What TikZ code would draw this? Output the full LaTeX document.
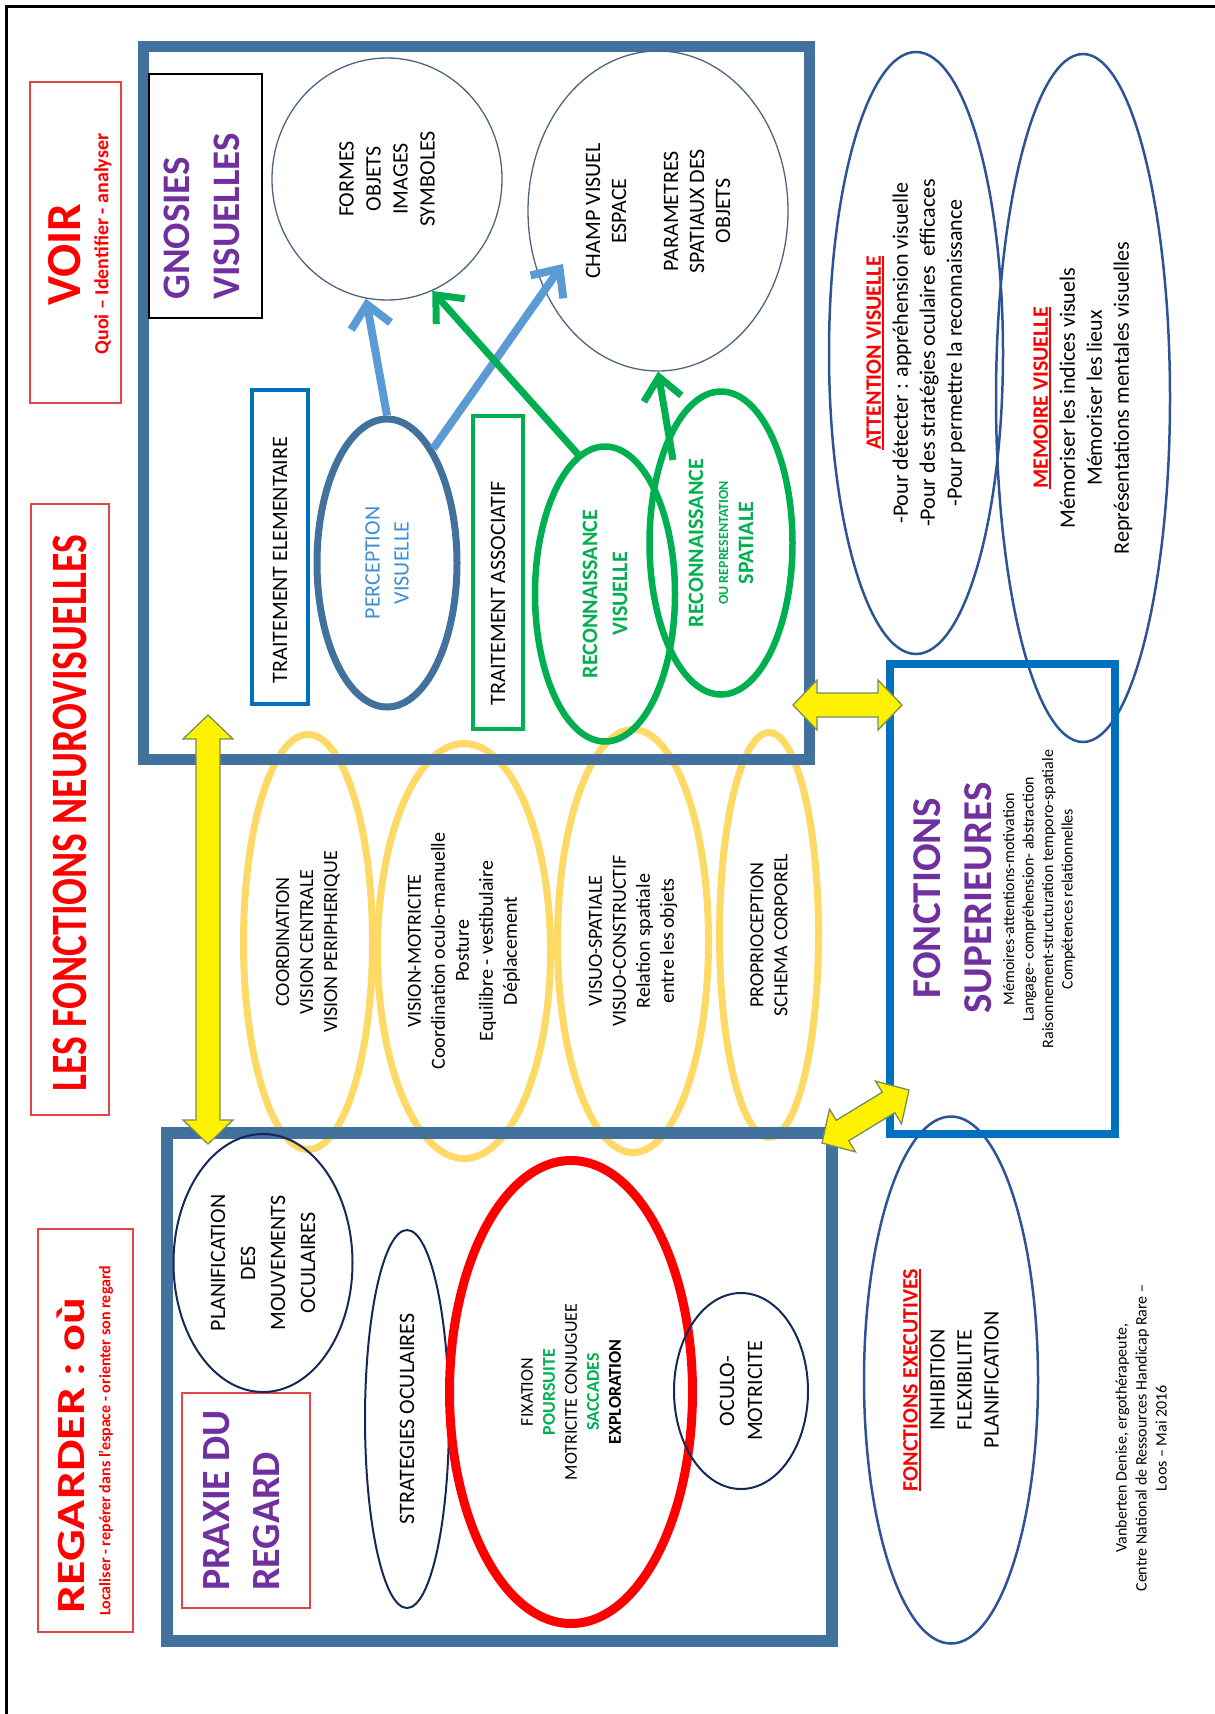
\documentclass[tikz,border=0pt]{standalone}
\usepackage{fontspec}
\setmainfont{Carlito}
\usepackage{graphicx}
\usepackage{tikz}
\usetikzlibrary{shapes.geometric,arrows.meta,calc}

\definecolor{acier}{RGB}{65,113,156}
\definecolor{bleuvif}{RGB}{0,112,192}
\definecolor{bleuclair}{RGB}{91,155,213}
\definecolor{bleutexte}{RGB}{62,142,208}
\definecolor{vert}{RGB}{0,176,80}
\definecolor{ocre}{RGB}{255,217,102}
\definecolor{violetgv}{RGB}{112,48,160}
\definecolor{marine}{RGB}{47,84,150}
\definecolor{nuit}{RGB}{20,40,90}
\definecolor{rouge}{RGB}{255,0,0}
\definecolor{rougecadre}{RGB}{225,70,70}
\definecolor{gristrait}{RGB}{80,100,130}
\definecolor{bordjaune}{RGB}{120,140,90}

\newcommand{\taille}[2]{\fontsize{#1}{#2}\selectfont}
\newsavebox{\boitesoul}
\newcommand{\souligne}[1]{\sbox{\boitesoul}{#1}\rlap{\rule[-3pt]{\wd\boitesoul}{1.8pt}}\usebox{\boitesoul}}

% double fleche jaune entre deux points
\newcommand{\flechejaune}[2]{%
  \coordinate (h1) at ($(#1)!24pt!(#2)$);
  \coordinate (h2) at ($(#2)!24pt!(#1)$);
  \filldraw[fleche jaune] (#1) -- ($(h1)!25pt!90:(#2)$) -- ($(h1)!12pt!90:(#2)$)
    -- ($(h2)!12pt!-90:(#1)$) -- ($(h2)!25pt!-90:(#1)$) -- (#2)
    -- ($(h2)!25pt!90:(#1)$) -- ($(h2)!12pt!90:(#1)$)
    -- ($(h1)!12pt!-90:(#2)$) -- ($(h1)!25pt!-90:(#2)$) -- cycle;}

\tikzset{
  cadre/.style={draw=acier, line width=11pt},
  titre/.style={draw=rougecadre, line width=1.3pt},
  traitement/.style={line width=4.5pt},
  cercle/.style={ellipse, draw=gristrait, line width=1.3pt, align=center, font=\taille{22}{27}},
  jaune/.style={ellipse, draw=ocre, line width=7pt, align=center, font=\taille{20}{24}},
  bulle/.style={ellipse, draw=marine, line width=2.5pt, align=center, font=\taille{22}{27}},
  oeil/.style={ellipse, draw=nuit, line width=2pt, align=center, font=\taille{22}{30}},
  fleche bleue/.style={draw=bleuclair, line width=8pt, -{Straight Barb[length=22pt,width=40pt]}},
  fleche verte/.style={draw=vert, line width=7pt, -{Straight Barb[length=22pt,width=38pt]}},
  fleche jaune/.style={fill=yellow, draw=bordjaune, line width=1.3pt, line join=miter},
}

\begin{document}
\begin{tikzpicture}[x=1pt, y=-1pt, every node/.style={rotate=90, inner sep=0pt}]
\useasboundingbox (0,0) rectangle (1215,1714);
\clip (0,0) rectangle (1215,1714);
\draw[line width=2.5pt] (6.5,6.5) rectangle (1240,1740);

% titres
\node[titre, minimum width=321pt, minimum height=91pt] (voir) at (75.5,242.5) {};
\node[font=\bfseries\taille{49}{49}, text=rouge] (voirtxt) at (65,255) {VOIR};
\node[font=\bfseries\taille{20}{20}, text=rouge] (voirsous) at (103,244) {Quoi – Identifier - analyser};

\node[titre, minimum width=611pt, minimum height=78pt] (neuro) at (70,809.5) {};
\node[font=\bfseries\taille{51}{51}, text=rouge] (neurotxt) at (70,813)
  {\scalebox{0.78}[1]{LES FONCTIONS NEUROVISUELLES}};

\node[titre, minimum width=403pt, minimum height=95pt] (regarder) at (85.5,1430.5) {};
\node[anchor=west, font=\bfseries\taille{40}{40}, text=rouge] (regtxt) at (71,1614)
  {\scalebox{1.25}[1]{REGARDER : où}};
\node[anchor=west, font=\bfseries\taille{16}{16}, text=rouge] (regsous) at (106,1616)
  {Localiser - repérer dans l'espace - orienter son regard};

% anneaux jaunes
\node[jaune, minimum width=415pt, minimum height=129pt] (coord) at (308,942)
  {COORDINATION\\VISION CENTRALE\\VISION PERIPHERIQUE};
\node[jaune, minimum width=415pt, minimum height=173pt] (motri) at (464,951)
  {VISION-MOTRICITE\\Coordination oculo-manuelle\\Posture\\Equilibre - vestibulaire\\Déplacement};
\node[jaune, minimum width=423pt, minimum height=151pt] (spatial) at (633,941)
  {VISUO-SPATIALE\\VISUO-CONSTRUCTIF\\Relation spatiale\\entre les objets};
\node[jaune, minimum width=405pt, minimum height=99pt] (proprio) at (769,935)
  {PROPRIOCEPTION\\SCHEMA CORPOREL};

% fonctions a droite
\node[bulle, minimum width=602pt, minimum height=174pt] (attention) at (916,353)
  {\textcolor{rouge}{\bfseries\souligne{ATTENTION VISUELLE}}\\-Pour détecter : appréhension visuelle\\-Pour des stratégies oculaires\ \ efficaces\\-Pour permettre la reconnaissance};
\node[bulle, minimum width=688pt, minimum height=174pt] (memoire) at (1083,398)
  {\textcolor{rouge}{\bfseries\souligne{MEMOIRE VISUELLE}}\\Mémoriser les indices visuels\\Mémoriser les lieux\\Représentations mentales visuelles};
\node[bulle, minimum width=527pt, minimum height=174pt] (executives) at (951,1380)
  {\textcolor{rouge}{\bfseries\souligne{FONCTIONS EXECUTIVES}}\\INHIBITION\\FLEXIBILITE\\PLANIFICATION};

% grands cadres
\node[cadre, minimum width=713pt, minimum height=666pt] (gnosies) at (476,402.5) {};
\node[cadre, line width=12pt, minimum width=508pt, minimum height=665pt] (praxie) at (499.5,1387) {};
\node[draw=bleuvif, line width=8pt, minimum width=470pt, minimum height=225pt] (superieures) at (1002.5,899) {};
\node[font=\bfseries\taille{41}{51}, text=violetgv, align=center] (suptxt) at (952.5,898) {FONCTIONS\\SUPERIEURES};
\node[font=\taille{16}{19.5}, align=center] (supsous) at (1039,899)
  {Mémoires-attentions-motivation\\Langage- compréhension- abstraction\\Raisonnement-structuration temporo-spatiale\\Compétences relationnelles};

% gnosies visuelles
\node[draw, line width=1.3pt, minimum width=244pt, minimum height=113pt] (gvcadre) at (205.5,196) {};
\node[anchor=west, align=left, font=\bfseries\taille{39}{50}, text=violetgv] (gvtxt) at (201.5,300) {GNOSIES\\VISUELLES};
\node[cercle, minimum width=242pt, minimum height=230pt] (formes) at (387,179) {FORMES\\OBJETS\\IMAGES\\SYMBOLES};
\node[cercle, minimum width=320pt, minimum height=260pt, font=\taille{22}{26}] (champ) at (658,211)
  {CHAMP VISUEL\\ESPACE\\[26pt]PARAMETRES\\SPATIAUX DES\\OBJETS};
\node[traitement, draw=bleuvif, minimum width=314pt, minimum height=56pt] (elementaire) at (280,547) {};
\node[font=\taille{22}{26}] (elemtxt) at (280,560) {TRAITEMENT ELEMENTAIRE};
\node[traitement, draw=vert, minimum width=313pt, minimum height=50pt] (associatif) at (498,572.5) {};
\node[font=\taille{22}{26}] (assotxt) at (498,593) {TRAITEMENT ASSOCIATIF};
\node[ellipse, draw=acier, line width=7pt, minimum width=288pt, minimum height=140pt, text=bleutexte,
  font=\taille{22}{29}, align=center] (perception) at (387,563) {PERCEPTION\\VISUELLE};
\node[ellipse, draw=vert, line width=6.5pt, minimum width=295pt, minimum height=140pt, text=vert,
  font=\bfseries\taille{22}{30}, align=center] (rv) at (605,594) {RECONNAISSANCE\\VISUELLE};
\node[ellipse, draw=vert, line width=6.5pt, minimum width=303pt, minimum height=143pt, text=vert,
  font=\bfseries\taille{22}{25}, align=center] (rs) at (721,543)
  {RECONNAISSANCE\\{\taille{14}{14}OU REPRESENTATION}\\SPATIALE};

\draw[fleche bleue] (perception.east) -- (formes.170);
\draw[fleche bleue] (perception.-22) -- ($(champ)+(-95,53)$);
\draw[fleche verte] (rv.11) -- (formes.202);
\draw[fleche verte] ($(rs)+(-48,-83)$) -- (champ.west);

% praxie du regard
\node[titre, minimum width=215pt, minimum height=128pt] (pxcadre) at (246,1500.5) {};
\node[anchor=west, align=left, font=\bfseries\taille{40}{50}, text=violetgv] (pxtxt) at (241.5,1591) {PRAXIE DU\\REGARD};
\node[oeil, minimum width=258pt, minimum height=179pt] (planif) at (263,1263)
  {PLANIFICATION\\DES\\MOUVEMENTS\\OCULAIRES};
\node[oeil, minimum width=378pt, minimum height=84pt] (strategies) at (407,1419) {STRATEGIES OCULAIRES};
\node[ellipse, draw=rouge, line width=9pt, minimum width=463pt, minimum height=243pt,
  font=\taille{18}{22}, align=center] (motricite) at (571,1392)
  {FIXATION\\\textcolor{vert}{\bfseries POURSUITE}\\MOTRICITE CONJUGUEE\\\textcolor{vert}{\bfseries SACCADES}\\\textbf{EXPLORATION}};
\node[oeil, minimum width=196pt, minimum height=134pt, font=\taille{22}{28}] (oculo) at (741,1391) {OCULO-\\MOTRICITE};

\node[font=\taille{16}{20}, align=center] (credit) at (1141,1438)
  {Vanberten Denise, ergothérapeute,\\Centre National de Ressources Handicap Rare –\\Loos – Mai 2016};

% doubles fleches jaunes
\coordinate (jgh) at (208,715);
\coordinate (jgb) at (208,1144);
\coordinate (jdg) at (793,705);
\coordinate (jdd) at (902,705);
\coordinate (jbp) at (822,1143);
\coordinate (jbs) at (909,1090);
\flechejaune{jgh}{jgb}
\flechejaune{jdg}{jdd}
\flechejaune{jbp}{jbs}
\end{tikzpicture}
\end{document}
